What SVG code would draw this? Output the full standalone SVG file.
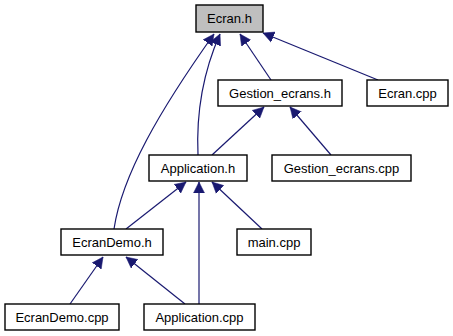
<svg xmlns="http://www.w3.org/2000/svg" width="453" height="336" viewBox="0 0 453 336">
  <style>
    .node rect { fill: #ffffff; stroke: #000000; stroke-width: 1.4; }
    .node.root rect { fill: #bfbfbf; }
    .node text { font-family: "Liberation Sans", Arial, sans-serif; font-size: 13px; fill: #000000; text-anchor: middle; }
    .edge { fill: none; stroke: #191970; stroke-width: 1.2; marker-end: url(#arrow); }
  </style>
  <defs>
    <marker id="arrow" markerUnits="userSpaceOnUse" markerWidth="12" markerHeight="12" viewBox="0 0 12 12" refX="11" refY="6" orient="auto">
      <path d="M0,0.5 L11,6 L0,11.5 Z" fill="#191970" stroke="#191970" stroke-width="0.5"/>
    </marker>
  </defs>
  <rect width="453" height="336" fill="#ffffff"/>

  <g id="connectors">
    <path class="edge" d="M271,80 L240,34"/>
    <path class="edge" d="M378,80 L263,33"/>
    <path class="edge" d="M198,155 C196,110 204,70 220,34"/>
    <path class="edge" d="M114,229 C122,175 160,110 214,34"/>
    <path class="edge" d="M212,155 L264,107"/>
    <path class="edge" d="M331,155 L290,107"/>
    <path class="edge" d="M126,229 L186,182"/>
    <path class="edge" d="M199,304 L199,182"/>
    <path class="edge" d="M262,229 L212,182"/>
    <path class="edge" d="M70,304 L103,257"/>
    <path class="edge" d="M185,304 L126,257"/>
  </g>

  <g id="node-ecran-h" class="node root">
    <rect x="196" y="5" width="67" height="27"/>
    <text x="229.5" y="23">Ecran.h</text>
  </g>
  <g id="node-gestion-ecrans-h" class="node">
    <rect x="218" y="80" width="124" height="26"/>
    <text x="280" y="98">Gestion_ecrans.h</text>
  </g>
  <g id="node-ecran-cpp" class="node">
    <rect x="367" y="80" width="81" height="26"/>
    <text x="407.5" y="98">Ecran.cpp</text>
  </g>
  <g id="node-application-h" class="node">
    <rect x="149" y="155" width="98" height="26"/>
    <text x="198" y="173">Application.h</text>
  </g>
  <g id="node-gestion-ecrans-cpp" class="node">
    <rect x="272" y="155" width="139" height="26"/>
    <text x="341.5" y="173">Gestion_ecrans.cpp</text>
  </g>
  <g id="node-ecrandemo-h" class="node">
    <rect x="61" y="229" width="102" height="26"/>
    <text x="112" y="247">EcranDemo.h</text>
  </g>
  <g id="node-main-cpp" class="node">
    <rect x="237" y="229" width="74" height="26"/>
    <text x="274" y="247">main.cpp</text>
  </g>
  <g id="node-ecrandemo-cpp" class="node">
    <rect x="5" y="304" width="114" height="26"/>
    <text x="62" y="322">EcranDemo.cpp</text>
  </g>
  <g id="node-application-cpp" class="node">
    <rect x="144" y="304" width="111" height="26"/>
    <text x="199.5" y="322">Application.cpp</text>
  </g>
</svg>
